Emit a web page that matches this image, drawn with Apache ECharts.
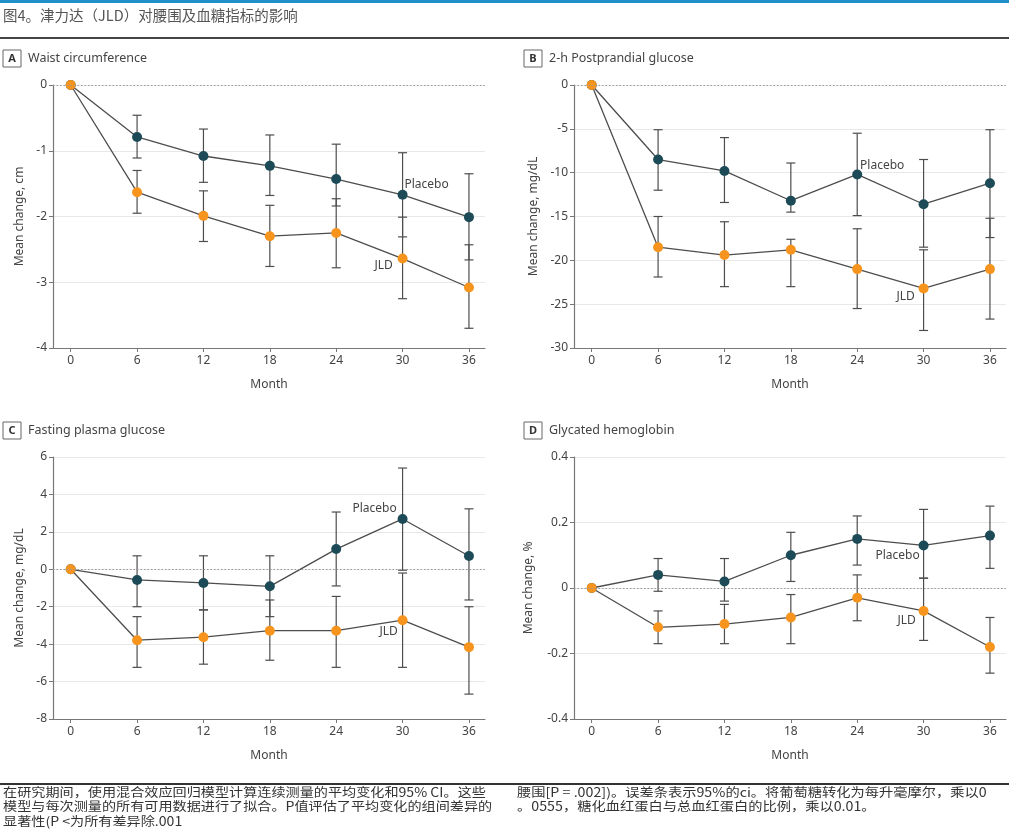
<!DOCTYPE html>
<html>
<head>
<meta charset="utf-8">
<script src="https://cdn.jsdelivr.net/npm/echarts@6/dist/echarts.min.js"></script>
<style>
html,body{margin:0;padding:0;background:#fff;}
#chart{width:1009px;height:832px;}
</style>
</head>
<body>
<div id="chart"></div>
<script>
// ---- Data ----
const months = [0, 6, 12, 18, 24, 30, 36];
const monthTicks = [0, 6, 12, 18, 24, 30, 36];

// A: Waist circumference (cm)
const waistPlacebo   = [0, -0.79, -1.08, -1.23, -1.43, -1.67, -2.01];
const waistPlaceboLo = [null, -1.11, -1.48, -1.68, -1.84, -2.31, -2.66];
const waistPlaceboHi = [null, -0.46, -0.67, -0.76, -0.90, -1.03, -1.35];
const waistJLD   = [0, -1.63, -1.99, -2.30, -2.25, -2.64, -3.08];
const waistJLDLo = [null, -1.95, -2.38, -2.76, -2.78, -3.25, -3.70];
const waistJLDHi = [null, -1.30, -1.61, -1.83, -1.73, -2.01, -2.43];

// B: 2-h Postprandial glucose (mg/dL)
const ppgPlacebo   = [0, -8.5, -9.8, -13.2, -10.2, -13.6, -11.2];
const ppgPlaceboLo = [null, -12.0, -13.4, -14.5, -14.9, -18.5, -17.4];
const ppgPlaceboHi = [null, -5.1, -6.0, -8.9, -5.5, -8.5, -5.1];
const ppgJLD   = [0, -18.5, -19.4, -18.8, -21.0, -23.2, -21.0];
const ppgJLDLo = [null, -21.9, -23.0, -23.0, -25.5, -28.0, -26.7];
const ppgJLDHi = [null, -15.0, -15.6, -17.6, -16.4, -18.8, -15.2];

// C: Fasting plasma glucose (mg/dL)
const fpgPlacebo   = [0, -0.57, -0.73, -0.91, 1.08, 2.69, 0.71];
const fpgPlaceboLo = [null, -2.0, -2.17, -2.53, -0.89, -0.05, -1.64];
const fpgPlaceboHi = [null, 0.72, 0.72, 0.72, 3.06, 5.41, 3.23];
const fpgJLD   = [0, -3.79, -3.63, -3.28, -3.28, -2.72, -4.16];
const fpgJLDLo = [null, -5.24, -5.07, -4.86, -5.24, -5.24, -6.67];
const fpgJLDHi = [null, -2.53, -2.17, -1.64, -1.45, -0.2, -2.0];

// D: Glycated hemoglobin (%)
const hbaPlacebo   = [0, 0.04, 0.02, 0.10, 0.15, 0.13, 0.16];
const hbaPlaceboLo = [null, -0.01, -0.04, 0.02, 0.07, 0.03, 0.06];
const hbaPlaceboHi = [null, 0.09, 0.09, 0.17, 0.22, 0.24, 0.25];
const hbaJLD   = [0, -0.12, -0.11, -0.09, -0.03, -0.07, -0.18];
const hbaJLDLo = [null, -0.17, -0.17, -0.17, -0.10, -0.16, -0.26];
const hbaJLDHi = [null, -0.07, -0.05, -0.02, 0.04, 0.03, -0.09];

const panelTitles = ['Waist circumference', '2-h Postprandial glucose', 'Fasting plasma glucose', 'Glycated hemoglobin'];
const panelLetters = ['A', 'B', 'C', 'D'];
const yNames = ['Mean change, cm', 'Mean change, mg/dL', 'Mean change, mg/dL', 'Mean change, %'];
const seriesNames = ['Placebo', 'JLD'];

const titleText = '图4。津力达（JLD）对腰围及血糖指标的影响';
const noteLeft = ['在研究期间，使用混合效应回归模型计算连续测量的平均变化和95% CI。这些',
                  '模型与每次测量的所有可用数据进行了拟合。P值评估了平均变化的组间差异的',
                  '显著性(P <为所有差异除.001'];
const noteRight = ['腰围[P = .002])。误差条表示95%的ci。将葡萄糖转化为每升毫摩尔，乘以0',
                   '。0555，糖化血红蛋白与总血红蛋白的比例，乘以0.01。'];

// ---- Styles ----
const FONT = "'Noto Sans', 'Noto Sans CJK SC', sans-serif";
const CJK = "'Noto Sans CJK SC', sans-serif";
const placeboColor = '#1c4a56';
const jldColor = '#f7941d';
const lineColor = '#4d4d4d';
const axisColor = '#777';
const textColor = '#444';

const panels = [
  {p:[waistPlacebo,waistPlaceboLo,waistPlaceboHi], j:[waistJLD,waistJLDLo,waistJLDHi],
   min:-4, max:0, interval:1, grid:{left:53, top:85, width:432, height:263}, nameGap:27,
   pLab:{idx:5, off:[24,-10]}, jLab:{idx:5, off:[-19,7]}},
  {p:[ppgPlacebo,ppgPlaceboLo,ppgPlaceboHi], j:[ppgJLD,ppgJLDLo,ppgJLDHi],
   min:-30, max:0, interval:5, grid:{left:574, top:85, width:432, height:263}, nameGap:34,
   pLab:{idx:4, off:[25,-9]}, jLab:{idx:5, off:[-18,8]}},
  {p:[fpgPlacebo,fpgPlaceboLo,fpgPlaceboHi], j:[fpgJLD,fpgJLDLo,fpgJLDHi],
   min:-8, max:6, interval:2, grid:{left:53, top:457, width:432, height:262}, nameGap:27,
   pLab:{idx:5, off:[-28,-10]}, jLab:{idx:5, off:[-14,11]}},
  {p:[hbaPlacebo,hbaPlaceboLo,hbaPlaceboHi], j:[hbaJLD,hbaJLDLo,hbaJLDHi],
   min:-0.4, max:0.4, interval:0.2, grid:{left:574, top:457, width:432, height:262}, nameGap:39,
   pLab:{idx:5, off:[-26,10]}, jLab:{idx:5, off:[-17,10]}}
];

const grids = [], xAxes = [], yAxes = [], series = [], graphics = [];

function errRender(params, api) {
  const x = api.value(0);
  const lo = api.coord([x, api.value(1)]);
  const hi = api.coord([x, api.value(2)]);
  const w = 4.5;
  const style = {stroke: lineColor, lineWidth: 1.2};
  return {type:'group', children:[
    {type:'line', shape:{x1:lo[0], y1:lo[1], x2:hi[0], y2:hi[1]}, style},
    {type:'line', shape:{x1:lo[0]-w, y1:lo[1], x2:lo[0]+w, y2:lo[1]}, style},
    {type:'line', shape:{x1:hi[0]-w, y1:hi[1], x2:hi[0]+w, y2:hi[1]}, style}
  ]};
}

panels.forEach((pn, i) => {
  grids.push(Object.assign({containLabel:false}, pn.grid));
  xAxes.push({
    type:'value', gridIndex:i, min:-1.6, max:37.45,
    name:'Month', nameLocation:'middle', nameGap:31,
    nameTextStyle:{fontFamily:FONT, fontSize:12, color:textColor},
    axisLine:{show:true, onZero:false, lineStyle:{color:axisColor, width:1.2}},
    axisTick:{show:true, length:4, customValues:monthTicks, lineStyle:{color:axisColor}},
    axisLabel:{customValues:monthTicks, fontFamily:FONT, fontSize:12, color:textColor, margin:7},
    splitLine:{show:false}
  });
  yAxes.push({
    type:'value', gridIndex:i, min:pn.min, max:pn.max, interval:pn.interval,
    name:yNames[i], nameLocation:'middle', nameGap:pn.nameGap, nameRotate:90,
    nameTextStyle:{fontFamily:FONT, fontSize:12, color:textColor},
    axisLine:{show:true, onZero:false, lineStyle:{color:axisColor, width:1.2}},
    axisTick:{show:true, length:4, lineStyle:{color:axisColor}},
    axisLabel:{fontFamily:FONT, fontSize:12, color:textColor, margin:6,
      formatter: v => (Math.round(v*100)/100).toString()},
    splitLine:{show:true, lineStyle:{color:'#e8e8e8', width:1}}
  });

  const groups = [pn.p, pn.j];
  const labs = [pn.pLab, pn.jLab];
  const colors = [placeboColor, jldColor];
  groups.forEach((g, k) => {
    const errData = [];
    months.forEach((m, t) => { if (g[1][t] !== null) errData.push([m, g[1][t], g[2][t]]); });
    series.push({
      type:'custom', xAxisIndex:i, yAxisIndex:i, renderItem:errRender,
      data:errData, encode:{x:0, y:[1,2]}, z:2, silent:true
    });
  });
  groups.forEach((g, k) => {
    const data = months.map((m, t) => {
      const item = {value:[m, g[0][t]]};
      if (t === labs[k].idx) {
        item.label = {show:true, formatter:seriesNames[k], position:'inside', offset:labs[k].off,
          fontFamily:FONT, fontSize:12, color:textColor, align:'center', verticalAlign:'middle'};
      }
      return item;
    });
    const s = {
      type:'line', name:seriesNames[k], xAxisIndex:i, yAxisIndex:i, data,
      symbol:'circle', symbolSize:10, z:3 + k,
      lineStyle:{color:lineColor, width:1.3},
      itemStyle:{color:colors[k]},
      label:{show:false}, silent:true, animation:false
    };
    if (k === 0) {
      s.markLine = {silent:true, symbol:'none', label:{show:false},
        lineStyle:{color:'#999', type:[1.5,2], width:1}, data:[{yAxis:0}], animation:false};
    }
    series.push(s);
  });

  // Panel label box + title
  const bx = pn.grid.left - 50;
  const by = pn.grid.top - 35;
  graphics.push({type:'rect', shape:{x:bx, y:by, width:18, height:17},
    style:{fill:'#fff', stroke:'#666', lineWidth:1}});
  graphics.push({type:'text', x:bx+9, y:by+8.5, style:{text:panelLetters[i], fontFamily:FONT,
    fontSize:11, fontWeight:'bold', fill:'#333', align:'center', verticalAlign:'middle'}});
  graphics.push({type:'text', x:bx+25, y:by+8.5, style:{text:panelTitles[i], fontFamily:FONT,
    fontSize:12.5, fill:'#444', align:'left', verticalAlign:'middle'}});
});

// header / footer decorations
graphics.push({type:'rect', shape:{x:0, y:0, width:1009, height:3}, style:{fill:'#1e8fc8'}});
graphics.push({type:'text', x:3, y:15, style:{text:titleText, fontFamily:CJK, fontSize:14.5,
  fill:'#555', align:'left', verticalAlign:'middle'}});
graphics.push({type:'rect', shape:{x:0, y:37, width:1009, height:2}, style:{fill:'#444'}});
graphics.push({type:'rect', shape:{x:0, y:783, width:1009, height:2}, style:{fill:'#333'}});
noteLeft.forEach((t, r) => graphics.push({type:'text', x:3, y:792 + r*14.5, scaleX:1.13,
  style:{text:t, fontFamily:CJK, fontSize:12.5, fill:'#333', align:'left', verticalAlign:'middle'}}));
noteRight.forEach((t, r) => graphics.push({type:'text', x:517, y:792 + r*14.5, scaleX:1.14,
  style:{text:t, fontFamily:CJK, fontSize:12.5, fill:'#333', align:'left', verticalAlign:'middle'}}));

const chart = echarts.init(document.getElementById('chart'), null, {renderer:'canvas'});
chart.setOption({
  backgroundColor:'#fff',
  animation:false,
  grid:grids, xAxis:xAxes, yAxis:yAxes, series, graphic:graphics
});
</script>
</body>
</html>
